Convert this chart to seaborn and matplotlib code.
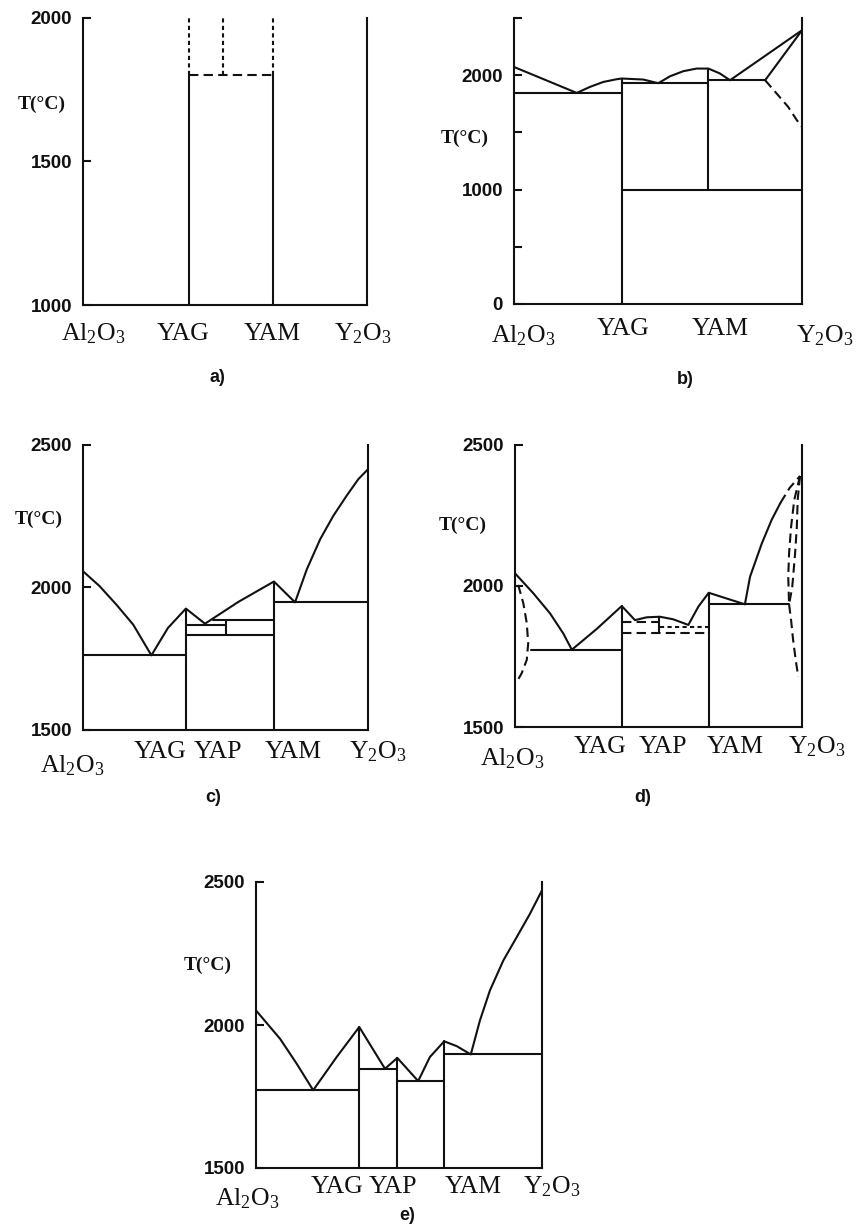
import matplotlib
matplotlib.use("Agg")
import matplotlib.pyplot as plt
import seaborn as sns

# ---------------- data (x = mol% Y2O3, T in deg C) ----------------
# (a) sub-solidus sketch
A_COMP_X = [37.3, 49.3, 66.9]          # YAG, YAP, YAM
A_SOLID_TOP = 1800
A_YLIM = (1000, 2000)

# (b)
B_LIQ_X = [0, 21.8, 26.4, 31.0, 35.7, 37.4, 44.9, 50.1, 54.2, 58.8, 63.4, 67.5, 71.5, 75.0, 100]
B_LIQ_T = [2072, 1845, 1898, 1941, 1965, 1971, 1962, 1930, 1991, 2035, 2058, 2058, 2015, 1956, 2393]
B_YAG_X, B_YAM_X = 37.4, 67.5
B_EUT = [(0, 37.4, 1845), (37.4, 67.5, 1930), (67.5, 87.2, 1956)]
B_YAM_LOW_T = 1000
B_SS_X = [87.2, 100]
B_SS_T = [1956, 2393]
B_SOLVUS_X = [87.2, 91.2, 95.2, 98.2, 100]
B_SOLVUS_T = [1956, 1840, 1723, 1607, 1548]
B_YLIM = (0, 2500)

# (c)
C_LIQ_X = [0, 5.8, 11.7, 17.6, 24.0, 29.8, 36.1, 42.8, 54.6, 67.0, 74.4, 78.5, 83.2, 87.8, 92.5, 96.6, 100]
C_LIQ_T = [2057, 2005, 1940, 1870, 1762, 1858, 1926, 1873, 1950, 2021, 1948, 2063, 2169, 2251, 2322, 2380, 2415]
C_YAG_X, C_YAP_X, C_YAM_X = 36.1, 50.2, 67.0
C_EUT = [(0, 36.1, 1762), (67.0, 100, 1948)]
C_YAP_LINES = [(45.6, 67.0, 1887), (36.1, 50.2, 1870), (36.1, 67.0, 1835)]
C_YLIM = (1500, 2500)

# (d)
D_LIQ_X = [0, 6.4, 12.2, 16.8, 19.8, 28.5, 37.2, 41.8, 45.9, 50.5, 55.1, 60.4, 63.9, 67.5, 80.1, 81.9, 86.0, 89.4, 92.5]
D_LIQ_T = [2045, 1974, 1903, 1832, 1774, 1848, 1929, 1879, 1889, 1891, 1882, 1862, 1927, 1976, 1935, 2033, 2151, 2234, 2295]
D_LIQ_DASH_X = [92.5, 95.7, 99.3]
D_LIQ_DASH_T = [2295, 2348, 2390]
D_YAG_X, D_YAP_X, D_YAM_X = 37.2, 50.3, 67.5
D_EUT = [(5.5, 37.2, 1774), (67.5, 95.5, 1935)]
D_YAP_DASHED = [(37.2, 49.9, 1873), (37.2, 67.5, 1834)]
D_YAP_DOTTED = [(50.5, 67.5, 1856)]
D_YAP_TOP_T = 1891
D_AL_SS_X = [1.1, 2.9, 4.1, 4.6, 4.1, 2.3, 0.3]
D_AL_SS_T = [2004, 1939, 1868, 1797, 1738, 1690, 1655]
D_Y_SOLIDUS_X = [99.3, 97.3, 96.2, 95.5, 95.2, 95.5]
D_Y_SOLIDUS_T = [2390, 2305, 2210, 2116, 2033, 1935]
D_Y_INNER_X = [99.3, 98.5, 98.2, 97.6, 96.6, 95.5]
D_Y_INNER_T = [2390, 2305, 2210, 2117, 1996, 1935]
D_Y_SOLVUS_X = [95.5, 96.2, 96.9, 97.8, 98.7]
D_Y_SOLVUS_T = [1935, 1879, 1809, 1738, 1678]
D_YLIM = (1500, 2500)

# (e)
E_LIQ_X = [0, 8.4, 14.2, 20.0, 28.2, 36.1, 45.1, 49.4, 56.7, 60.8, 65.8, 70.2, 75.1, 78.3, 81.8, 86.5, 91.2, 95.8, 100]
E_LIQ_T = [2051, 1952, 1865, 1772, 1888, 1993, 1847, 1885, 1804, 1888, 1943, 1926, 1897, 2016, 2121, 2226, 2308, 2389, 2471]
E_COMP_X = [36.1, 49.4, 65.8]          # YAG, YAP, YAM
E_COMP_TOP = [1993, 1885, 1943]
E_EUT = [(0, 36.1, 1772), (36.1, 49.4, 1847), (49.4, 65.8, 1804), (65.8, 100, 1897)]
E_YLIM = (1500, 2500)

AL2O3 = r"Al$_\mathrm{2}$O$_\mathrm{3}$"
Y2O3 = r"Y$_\mathrm{2}$O$_\mathrm{3}$"

# ---------------- style ----------------
sns.set_theme(style="white")
plt.rcParams["font.family"] = ["Liberation Serif", "DejaVu Serif"]
plt.rcParams["mathtext.fontset"] = "custom"
plt.rcParams["mathtext.rm"] = "Liberation Serif"
plt.rcParams["mathtext.it"] = "Liberation Serif:italic"
plt.rcParams["mathtext.bf"] = "Liberation Serif:bold"

W, H = 857, 1230
LW = 1.5
INK = "#111111"
fig = plt.figure(figsize=(W / 100, H / 100), dpi=100)
fig.patch.set_facecolor("white")


def make_ax(left, right, top, bottom, ylim, yticks, ylabels):
    ax = fig.add_axes([left / W, 1 - bottom / H, (right - left) / W, (bottom - top) / H])
    ax.set_facecolor("none")
    ax.set_xlim(0, 100)
    ax.set_ylim(*ylim)
    ax.set_xticks([])
    ax.set_yticks(yticks)
    ax.set_yticklabels(ylabels)
    for lab in ax.get_yticklabels():
        lab.set_fontfamily("Liberation Sans")
        lab.set_fontweight("bold")
    ax.tick_params(axis="y", direction="in", length=6, width=LW, colors=INK,
                   labelsize=13.5, pad=8, left=True)
    ax.spines["top"].set_visible(False)
    for s in ("left", "right", "bottom"):
        ax.spines[s].set_linewidth(LW)
        ax.spines[s].set_color(INK)
    return ax


def seg(ax, xs, ys, ls="-"):
    sns.lineplot(x=list(xs), y=list(ys), ax=ax, color=INK, linewidth=LW,
                 sort=False, estimator=None)
    ax.lines[-1].set_linestyle(ls)


def hline(ax, x0, x1, t, ls="-"):
    seg(ax, [x0, x1], [t, t], ls)


def vline(ax, x, t0, t1, ls="-"):
    seg(ax, [x, x], [t0, t1], ls)


def xlabels(ax, items):
    for txt, x, dy in items:
        ax.annotate(txt, xy=(x, 0), xycoords=("data", "axes fraction"),
                    xytext=(0, -dy * 0.72), textcoords="offset points",
                    ha="center", va="baseline", fontsize=18.5, color=INK,
                    family="Liberation Serif")


def caption(ax, txt, x, dy):
    ax.annotate(txt, xy=(x, 0), xycoords=("data", "axes fraction"),
                xytext=(0, -dy * 0.72), textcoords="offset points",
                ha="center", va="center", fontsize=13, fontweight="bold",
                color=INK, family="Liberation Sans")


def tlabel(ax, t, dx):
    ax.annotate("T(°C)", xy=(0, t), xycoords=("axes fraction", "data"),
                xytext=(-dx * 0.72, 0), textcoords="offset points",
                ha="center", va="center", fontsize=14, fontweight="bold",
                color=INK, family="Liberation Serif")


DASH = (0, (4.5, 2.5))
DOT = (0, (2, 1.6))

# ---------------- (a) ----------------
ax = make_ax(83, 367, 18, 305, A_YLIM, [1000, 1500, 2000], ["1000", "1500", "2000"])
yag, yap, yam = A_COMP_X
vline(ax, yag, A_YLIM[0], A_SOLID_TOP)
vline(ax, yam, A_YLIM[0], A_SOLID_TOP)
hline(ax, yag, yam, A_SOLID_TOP, DASH)
for x in A_COMP_X:
    vline(ax, x, A_SOLID_TOP, A_YLIM[1], DOT)
tlabel(ax, 1700, 41)
xlabels(ax, [(AL2O3, 3.5, 35), ("YAG", 35.2, 35), ("YAM", 66.5, 35), (Y2O3, 98.6, 35)])
caption(ax, "a)", 47.5, 72)

# ---------------- (b) ----------------
ax = make_ax(514, 802, 18, 304, B_YLIM, [0, 500, 1000, 1500, 2000, 2500],
             ["0", "", "1000", "", "2000", ""])
seg(ax, B_LIQ_X, B_LIQ_T)
for x0, x1, t in B_EUT:
    hline(ax, x0, x1, t)
vline(ax, B_YAG_X, B_YLIM[0], B_LIQ_T[B_LIQ_X.index(B_YAG_X)])
vline(ax, B_YAM_X, B_YAM_LOW_T, B_LIQ_T[B_LIQ_X.index(B_YAM_X)])
hline(ax, B_YAG_X, 100, B_YAM_LOW_T)
seg(ax, B_SS_X, B_SS_T)
seg(ax, B_SOLVUS_X, B_SOLVUS_T, DASH)
tlabel(ax, 1450, 49)
xlabels(ax, [(AL2O3, 3.1, 38), ("YAG", 37.8, 31), ("YAM", 71.5, 31), (Y2O3, 108, 38)])
caption(ax, "b)", 59.4, 76)

# ---------------- (c) ----------------
ax = make_ax(83, 368, 445, 730, C_YLIM, [1500, 2000, 2500], ["1500", "2000", "2500"])
seg(ax, C_LIQ_X, C_LIQ_T)
for x0, x1, t in C_EUT:
    hline(ax, x0, x1, t)
vline(ax, C_YAG_X, C_YLIM[0], C_LIQ_T[C_LIQ_X.index(C_YAG_X)])
vline(ax, C_YAM_X, C_YLIM[0], C_LIQ_T[C_LIQ_X.index(C_YAM_X)])
for x0, x1, t in C_YAP_LINES:
    hline(ax, x0, x1, t)
vline(ax, C_YAP_X, C_YAP_LINES[2][2], C_YAP_LINES[0][2])
tlabel(ax, 2240, 44)
xlabels(ax, [(AL2O3, -3.9, 42), ("YAG", 27.0, 28), ("YAP", 47.4, 28),
             ("YAM", 73.7, 28), (Y2O3, 103.5, 28)])
caption(ax, "c)", 45.6, 67)

# ---------------- (d) ----------------
ax = make_ax(515, 802, 445, 727, D_YLIM, [1500, 2000, 2500], ["1500", "2000", "2500"])
seg(ax, D_LIQ_X, D_LIQ_T)
seg(ax, D_LIQ_DASH_X, D_LIQ_DASH_T, DASH)
for x0, x1, t in D_EUT:
    hline(ax, x0, x1, t)
vline(ax, D_YAG_X, D_YLIM[0], D_LIQ_T[D_LIQ_X.index(D_YAG_X)])
vline(ax, D_YAM_X, D_YLIM[0], D_LIQ_T[D_LIQ_X.index(D_YAM_X)])
for x0, x1, t in D_YAP_DASHED:
    hline(ax, x0, x1, t, DASH)
for x0, x1, t in D_YAP_DOTTED:
    hline(ax, x0, x1, t, DOT)
vline(ax, D_YAP_X, D_YAP_DASHED[1][2], D_YAP_TOP_T)
seg(ax, D_AL_SS_X, D_AL_SS_T, DASH)
seg(ax, D_Y_SOLIDUS_X, D_Y_SOLIDUS_T, DASH)
seg(ax, D_Y_INNER_X, D_Y_INNER_T, DASH)
seg(ax, D_Y_SOLVUS_X, D_Y_SOLVUS_T, DASH)
tlabel(ax, 2215, 52)
xlabels(ax, [(AL2O3, -1.0, 38), ("YAG", 29.6, 26), ("YAP", 51.6, 26),
             ("YAM", 76.7, 26), (Y2O3, 105.2, 26)])
caption(ax, "d)", 44.6, 70)

# ---------------- (e) ----------------
ax = make_ax(256, 542, 882, 1168, E_YLIM, [1500, 2000, 2500], ["1500", "2000", "2500"])
seg(ax, E_LIQ_X, E_LIQ_T)
for x0, x1, t in E_EUT:
    hline(ax, x0, x1, t)
for x, t in zip(E_COMP_X, E_COMP_TOP):
    vline(ax, x, E_YLIM[0], t)
tlabel(ax, 2210, 48)
xlabels(ax, [(AL2O3, -3.1, 37), ("YAG", 28.3, 25), ("YAP", 47.9, 25),
             ("YAM", 75.9, 25), (Y2O3, 103.5, 25)])
caption(ax, "e)", 52.8, 47)

fig.savefig("out.png", dpi=100, facecolor="white")
